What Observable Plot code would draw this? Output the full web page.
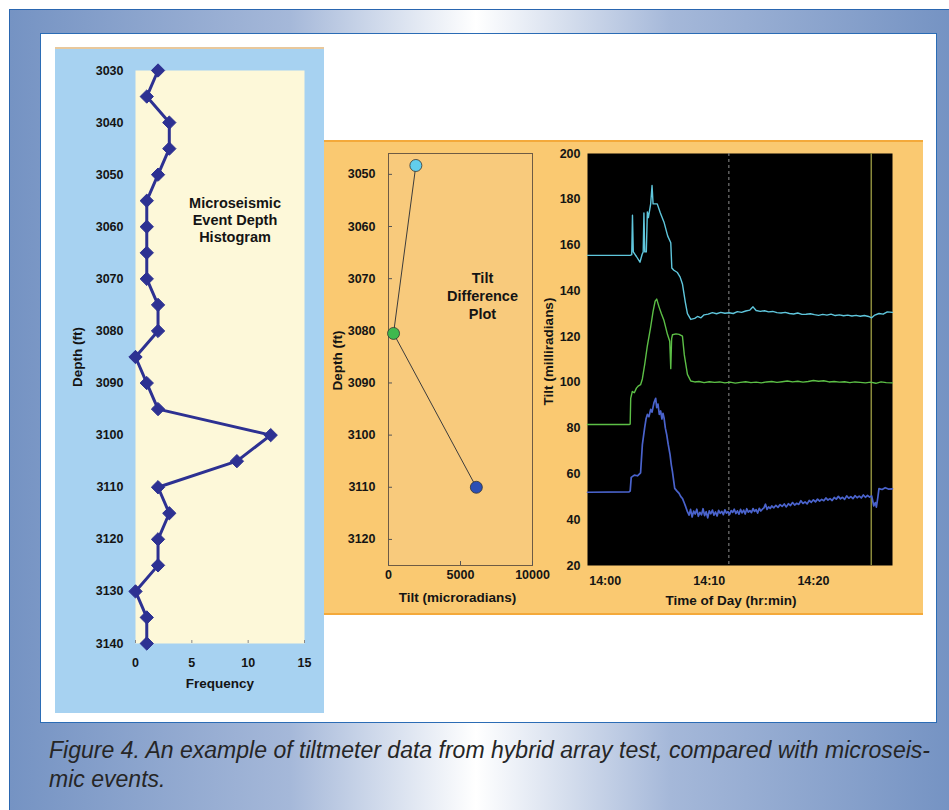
<!DOCTYPE html>
<html>
<head>
<meta charset="utf-8">
<script src="https://cdn.jsdelivr.net/npm/d3@7"></script>
<script src="https://cdn.jsdelivr.net/npm/@observablehq/plot@0.6"></script>
<style>
  html, body { margin: 0; padding: 0; background: #ffffff; }
  body { width: 949px; height: 810px; position: relative; overflow: hidden; font-family: "Liberation Sans", Arial, sans-serif; }
  .abs { position: absolute; }
  #frame { left: 9px; top: 9px; width: 960px; height: 820px; border-top: 1px solid #2a66b0; border-left: 1px solid #2a66b0;
    background: linear-gradient(90deg, #7593c3 0px, #a5b8d9 280px, #ffffff 466px, #a5b8d9 660px, #7593c3 940px); }
  #white { left: 40px; top: 33px; width: 895px; height: 688px; border: 1.5px solid #2b6cb5; background: #ffffff; }
  #leftpanel { left: 55px; top: 47px; width: 269px; height: 664px; background: #a7d2f1; border-top: 2px solid #e8c89c; }
  #orange { left: 324px; top: 140px; width: 599px; height: 471px; background: #fac971; border-top: 2px solid #f4a93a; border-bottom: 2px solid #f4a93a; }
  #caption { left: 49px; top: 736px; color: #262626; font-family: "Liberation Sans", Arial, sans-serif; font-style: italic; font-size: 23px; line-height: 29px; white-space: nowrap; }
  #caption span { display: inline-block; transform-origin: 0 50%; }
  .plotwrap svg { overflow: visible; }
</style>
</head>
<body>
<div id="frame" class="abs"></div>
<div id="white" class="abs"></div>
<div id="leftpanel" class="abs"></div>
<div id="orange" class="abs"></div>
<div id="p1" class="abs plotwrap" style="left:55px;top:48px;"></div>
<div id="p2" class="abs plotwrap" style="left:324px;top:141px;"></div>
<div id="p3" class="abs plotwrap" style="left:533px;top:141px;"></div>
<div id="caption" class="abs"><span id="cap1">Figure 4. An example of tiltmeter data from hybrid array test, compared with microseis-</span><br><span id="cap2">mic events.</span></div>
<script>
// ---------- Data: Microseismic event depth histogram ----------
const histDepths = [3030, 3035, 3040, 3045, 3050, 3055, 3060, 3065, 3070, 3075, 3080, 3085, 3090, 3095, 3100, 3105, 3110, 3115, 3120, 3125, 3130, 3135, 3140];
const histFreqs  = [2, 1, 3, 3, 2, 1, 1, 1, 1, 2, 2, 0, 1, 2, 12, 9, 2, 3, 2, 2, 0, 1, 1];
const histDepthTicks = [3030, 3040, 3050, 3060, 3070, 3080, 3090, 3100, 3110, 3120, 3130, 3140];
const histFreqTicks = [0, 5, 10, 15];
const histTitle = "Microseismic\nEvent Depth\nHistogram";

// ---------- Data: Tilt difference plot ----------
const tdDepths = [3048.3, 3080.5, 3110];
const tdTilts  = [1900, 350, 6100];
const tdColors = ["#62cdec", "#3fb84e", "#2c4fb5"];
const tdDepthTicks = [3050, 3060, 3070, 3080, 3090, 3100, 3110, 3120];
const tdTiltTicks = [0, 5000, 10000];
const tdTitle = "Tilt\nDifference\nPlot";

// ---------- Data: Tilt time series (minutes after 14:00, milliradians) ----------
const cyanSeries = [[-1.7,155.5],[2.40,155.5],[2.55,155.8],[2.62,173],[2.70,157],[3.0,155],[3.34,152.5],[3.55,156],[3.65,157],[3.72,174],[3.8,157],[3.95,157],[4.05,174.5],[4.15,172],[4.37,178],[4.5,186],[4.6,178],[5.0,178],[5.3,174],[5.65,170],[6.0,164],[6.3,161],[6.4,150],[6.6,149],[6.94,148],[7.2,146],[7.42,143],[7.7,135],[7.9,130],[8.22,127.5],[8.6,128],[8.87,128.8],[9.2,128.2],[9.5,129.5],[9.9,129.8],[10.3,130.5],[10.7,130],[11.1,130.6],[11.5,130.2],[11.9,130.4],[12.3,130.1],[12.7,130.9],[13.1,130.6],[13.5,131.2],[13.9,131.6],[14.2,133],[14.5,131.4],[14.9,131],[15.3,131.3],[15.7,130.8],[16.1,131],[16.5,130.5],[16.9,130.3],[17.3,130.6],[17.7,130.1],[18.1,129.9],[18.5,130.3],[18.9,129.7],[19.3,129.8],[19.7,130],[20.1,129.6],[20.5,129.3],[20.9,129.7],[21.3,129.4],[21.7,129.8],[22.1,129.2],[22.5,129.5],[22.9,129.1],[23.3,129.4],[23.7,129],[24.1,129.3],[24.5,128.9],[24.9,129.2],[25.3,128.8],[25.6,128.2],[25.9,129.4],[26.3,130.1],[26.7,129.8],[27.1,130.8],[27.6,130.6]];
const greenSeries = [[-1.7,81.6],[2.3,81.6],[2.4,81.8],[2.45,93],[2.6,96],[2.8,95.5],[3.0,97.5],[3.2,98.5],[3.4,99],[3.57,101.5],[3.8,108],[4.05,116],[4.37,124.3],[4.6,131],[4.8,135.5],[4.95,136.4],[5.17,133],[5.4,130],[5.65,127],[5.98,121],[6.2,118],[6.3,106],[6.38,119],[6.46,120.8],[6.8,121.2],[7.1,121],[7.42,120.2],[7.6,112],[7.9,103.5],[8.22,100.6],[8.6,100.2],[9.0,100.4],[9.5,99.9],[10,100.3],[10.5,100],[11,100.2],[11.5,99.8],[12,100.1],[12.5,99.7],[13,100],[13.5,100.3],[14,99.9],[14.5,100.1],[15,99.8],[15.5,100.2],[16,100.4],[16.5,100],[17,100.3],[17.5,100.6],[18,100.2],[18.5,100.5],[19,100.1],[19.5,100.4],[20,100.8],[20.5,100.5],[21,100.7],[21.5,100.2],[22,100.4],[22.5,100.1],[23,100.3],[23.5,99.9],[24,100.2],[24.5,100],[25,99.8],[25.5,100.1],[26,99.6],[26.5,100.2],[27,99.9],[27.6,99.8]];
const blueSeries = [[-1.7,52],[2.3,52.2],[2.4,52.5],[2.5,58.5],[2.8,59.5],[3.1,59.2],[3.4,60.5],[3.57,72.8],[3.79,80.1],[3.92,84],[4.05,86],[4.2,85],[4.37,88.2],[4.5,87],[4.69,91.2],[4.85,93],[4.95,89],[5.07,90.5],[5.2,86],[5.33,87.5],[5.45,84],[5.55,86.5],[5.65,84.6],[5.78,80],[5.91,77.2],[6.05,73],[6.23,68.4],[6.35,64],[6.46,61],[6.58,57],[6.68,53.7],[6.9,52.5],[7.1,51.5],[7.25,50.2],[7.42,49.3],[7.58,47.5],[7.74,45.6],[7.9,43.5],[8.06,42],[8.2,44.5],[8.35,41.2],[8.5,43.8],[8.65,42.5],[8.8,44.6],[8.95,41.5],[9.1,43.2],[9.25,42.1],[9.4,44.8],[9.55,41.8],[9.7,43.5],[9.85,40.8],[10.0,43.9],[10.15,42.6],[10.3,44.2],[10.45,42],[10.6,43.4],[10.75,41.6],[10.9,44.1],[11.05,42.8],[11.2,43.6],[11.35,42.2],[11.5,44.3],[11.65,42.9],[11.8,43.5],[11.95,42.3],[12.1,44],[12.25,43.2],[12.4,44.6],[12.55,42.7],[12.7,43.9],[12.85,42.4],[13.0,44.5],[13.15,43],[13.3,44.2],[13.45,42.5],[13.6,44.8],[13.75,43.3],[13.9,44],[14.05,43.1],[14.2,44.9],[14.35,43.6],[14.5,44.4],[14.65,42.9],[14.8,45],[14.95,43.8],[15.1,44.6],[15.25,45.2],[15.4,46.8],[15.55,44.5],[15.7,45.6],[15.85,44.9],[16.0,46],[16.2,45.2],[16.4,46.3],[16.6,45.4],[16.8,46.6],[17.0,45.8],[17.2,46.9],[17.4,45.6],[17.6,47],[17.8,46.2],[18.0,47.5],[18.2,46.4],[18.4,47.2],[18.6,46.7],[18.8,48.3],[19.0,47.1],[19.2,47.8],[19.4,46.9],[19.6,48.4],[19.8,47.6],[20.0,48.7],[20.2,47.8],[20.4,49],[20.6,48.1],[20.8,48.9],[21.0,48.3],[21.2,49.5],[21.4,48.6],[21.6,49.2],[21.8,48.4],[22.0,49.7],[22.2,49],[22.4,50.2],[22.6,49.1],[22.8,49.8],[23.0,48.9],[23.2,50.4],[23.4,49.4],[23.6,50.1],[23.8,49.2],[24.0,50.5],[24.2,49.6],[24.4,50.3],[24.6,49.5],[24.8,50.8],[25.0,49.8],[25.2,50.6],[25.4,49.9],[25.6,50.4],[25.8,46],[25.95,47.5],[26.05,45.5],[26.2,50],[26.3,53.6],[26.6,53.2],[26.9,54],[27.2,53.4],[27.6,53.5]];
const markerTimes = [11.88, 25.56];
const tiltTicks = [20, 40, 60, 80, 100, 120, 140, 160, 180, 200];
const timeTicks = [0, 10, 20];
const timeTickLabels = ["14:00", "14:10", "14:20"];

// ---------- Styles ----------
const NAVY = "#2d3192";
const INK = "#141414";
const baseStyle = {background: "transparent", fontFamily: "'Liberation Sans', Arial, sans-serif", fontSize: "12.5px", fontWeight: "bold", color: INK, overflow: "visible"};
const labelOpts = {fontSize: 13.5, fontWeight: "bold", fill: INK, lineAnchor: "middle", textAnchor: "middle"};
const plain = d => String(d);

const hist = histDepths.map((d, i) => ({depth: d, freq: histFreqs[i]}));
const td = tdDepths.map((d, i) => ({depth: d, tilt: tdTilts[i], color: tdColors[i]}));
const toObj = a => a.map(([t, v]) => ({t, v}));

// Panel 1: histogram
const p1 = Plot.plot({
  width: 269, height: 665, marginLeft: 80, marginRight: 20, marginTop: 22, marginBottom: 70,
  style: baseStyle,
  x: {domain: [0, 15]},
  y: {domain: [3030, 3140], reverse: true},
  marks: [
    Plot.frame({fill: "#fdf8d9", stroke: null}),
    Plot.axisY(histDepthTicks, {tickSize: 0, tickPadding: 12, label: null, tickFormat: plain}),
    Plot.axisX(histFreqTicks, {tickSize: -3, tickPadding: 18, label: null, stroke: "#888", tickFormat: plain}),
    Plot.text(["Depth (ft)"], {...labelOpts, frameAnchor: "left", rotate: -90, dx: -58, dy: 0}),
    Plot.text(["Frequency"], {...labelOpts, frameAnchor: "bottom", dx: 0, dy: 40}),
    Plot.line(hist, {x: "freq", y: "depth", stroke: NAVY, strokeWidth: 3, strokeLinejoin: "round"}),
    Plot.dot(hist, {x: "freq", y: "depth", symbol: "diamond2", r: 6, fill: NAVY, stroke: NAVY, strokeWidth: 1}),
    Plot.text([histTitle], {frameAnchor: "top", dx: 15, dy: 149, lineAnchor: "middle", textAnchor: "middle", lineHeight: 1.2, fontSize: 14.5, fontWeight: "bold", fill: INK})
  ]
});
document.getElementById("p1").append(p1);

// Panel 2: tilt difference
const p2 = Plot.plot({
  width: 221, height: 473, marginLeft: 64, marginRight: 13, marginTop: 12, marginBottom: 49,
  style: baseStyle,
  x: {domain: [0, 10000]},
  y: {domain: [3046, 3125], reverse: true},
  marks: [
    Plot.frame({fill: "#f8ca7c", stroke: "#6e5b44", strokeWidth: 1}),
    Plot.axisY(tdDepthTicks, {tickSize: -4, tickPadding: 17, label: null, stroke: "#555", tickFormat: plain}),
    Plot.axisX(tdTiltTicks, {tickSize: -4, tickPadding: 9, label: null, stroke: "#555", tickFormat: plain}),
    Plot.text(["Depth (ft)"], {...labelOpts, frameAnchor: "left", rotate: -90, dx: -51, dy: 1}),
    Plot.text(["Tilt (microradians)"], {...labelOpts, frameAnchor: "bottom", dx: -3, dy: 32}),
    Plot.line(td, {x: "tilt", y: "depth", stroke: "#3c3c3c", strokeWidth: 1}),
    Plot.dot(td, {x: "tilt", y: "depth", r: 6, fill: "color", stroke: "#333", strokeWidth: 0.8}),
    Plot.text([tdTitle], {frameAnchor: "top", dx: 22, dy: 142, lineAnchor: "middle", textAnchor: "middle", lineHeight: 1.22, fontSize: 14.5, fontWeight: "bold", fill: INK})
  ]
});
document.getElementById("p2").append(p2);

// Panel 3: tilt time series
const p3 = Plot.plot({
  width: 390, height: 473, marginLeft: 54, marginRight: 31, marginTop: 12, marginBottom: 49,
  style: baseStyle,
  x: {domain: [-1.7, 27.6]},
  y: {domain: [20, 200]},
  marks: [
    Plot.frame({fill: "#000000", stroke: null}),
    Plot.axisY(tiltTicks, {tickSize: 0, tickPadding: 7, label: null, tickFormat: plain}),
    Plot.axisX(timeTicks, {tickSize: 0, tickPadding: 11, label: null, tickFormat: d => timeTickLabels[timeTicks.indexOf(d)]}),
    Plot.text(["Tilt (milliradians)"], {...labelOpts, frameAnchor: "left", rotate: -90, dx: -38.5, dy: -8}),
    Plot.text(["Time of Day (hr:min)"], {...labelOpts, frameAnchor: "bottom", dx: -9, dy: 35}),
    Plot.ruleX([markerTimes[0]], {stroke: "#8e8e8e", strokeWidth: 1, strokeDasharray: "3,3"}),
    Plot.ruleX([markerTimes[1]], {stroke: "#8a8a3c", strokeWidth: 1.5}),
    Plot.line(toObj(cyanSeries), {x: "t", y: "v", stroke: "#5fc6dc", strokeWidth: 1.4}),
    Plot.line(toObj(greenSeries), {x: "t", y: "v", stroke: "#5cbf46", strokeWidth: 1.4}),
    Plot.line(toObj(blueSeries), {x: "t", y: "v", stroke: "#4a63cc", strokeWidth: 1.7})
  ]
});
document.getElementById("p3").append(p3);

// Fit caption lines to the reference width
function fitCaption() {
  const c1 = document.getElementById("cap1"), c2 = document.getElementById("cap2");
  c1.style.transform = ""; c2.style.transform = "";
  const w = c1.getBoundingClientRect().width;
  const s = 881 / w;
  c1.style.transform = `scaleX(${s})`;
  c2.style.transform = `scaleX(${s})`;
}
fitCaption();
if (document.fonts && document.fonts.ready) document.fonts.ready.then(fitCaption);
</script>
</body>
</html>
